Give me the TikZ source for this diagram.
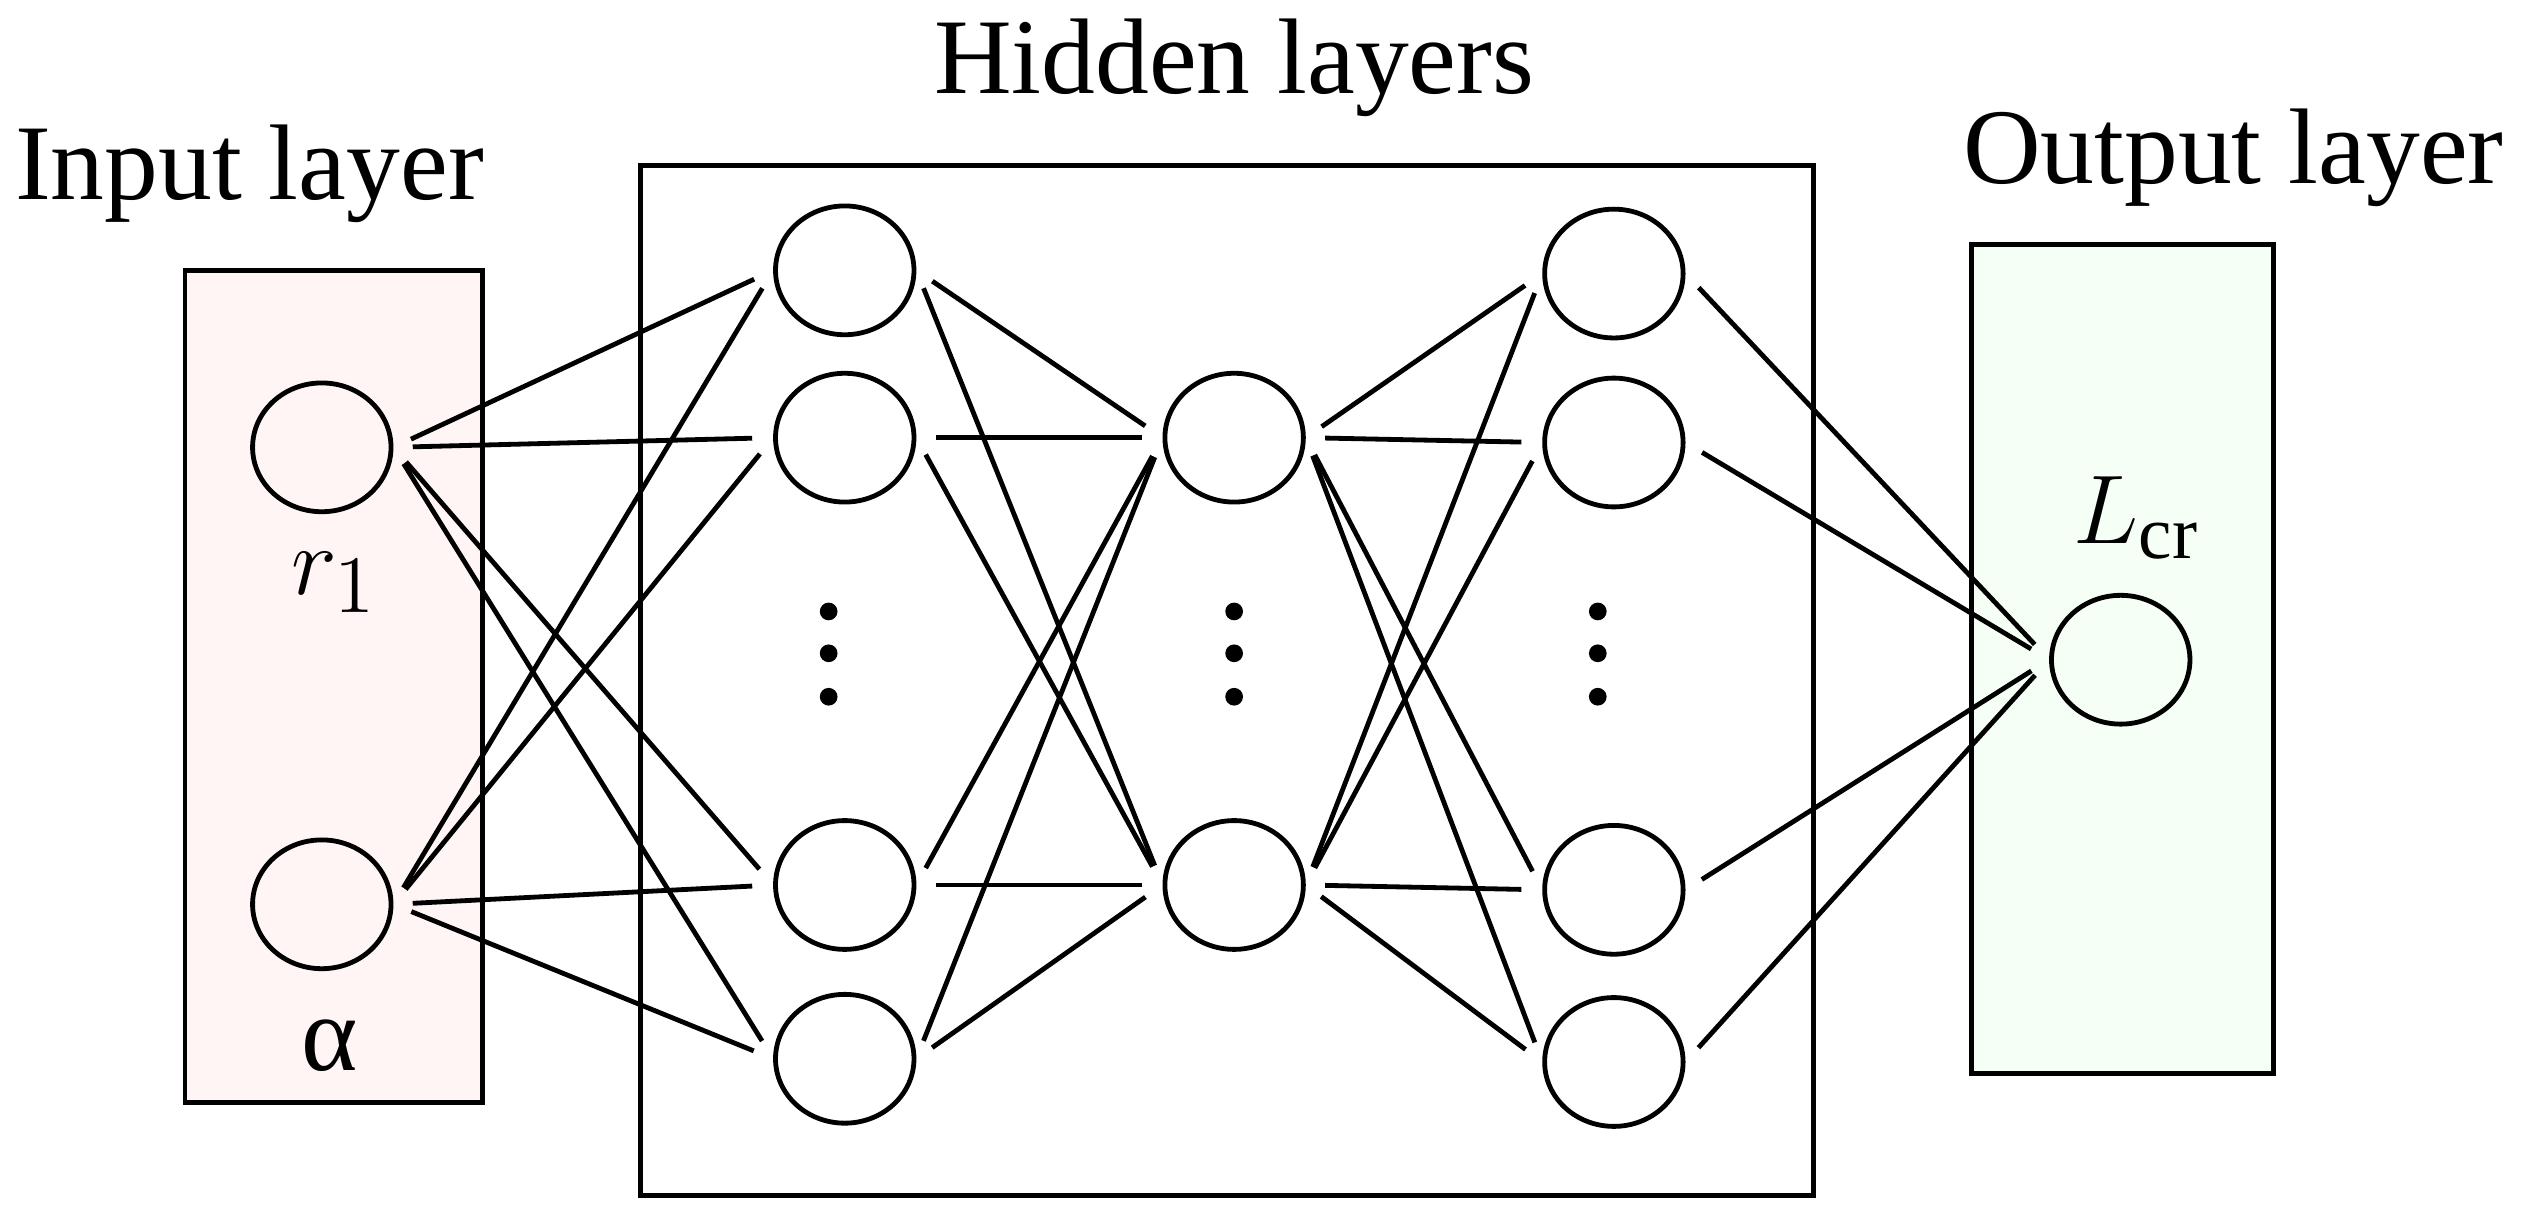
\documentclass[tikz,border=0pt]{standalone}
\usepackage{fontspec}
\setmainfont{Liberation Serif}
\usetikzlibrary{shapes.geometric}
\begin{document}
\begin{tikzpicture}[x=0.01cm, y=-0.01cm, line width=0.85pt]
\tikzset{neuron/.style={ellipse,draw,minimum width=0.86cm,minimum height=0.8cm,inner sep=0},
         lbl/.style={font=\fontsize{19}{23}\selectfont},
         vdots/.style={circle,fill=black,inner sep=0,minimum size=0.11cm},
         link/.style={shorten <=0.12cm,shorten >=0.13cm}}
\useasboundingbox (0,0) rectangle (1568,763);

% layer boxes
\draw[fill=red!4!white] (115,168) rectangle (300,685);
\draw (398,103) rectangle (1127,743);
\draw[fill=green!4!white] (1225,152) rectangle (1413,667);

% titles
\node[lbl] (tin) at (155,108) {Input layer};
\node[lbl] (thid) at (767,42) {Hidden layers};
\node[lbl] (tout) at (1388,98) {Output layer};

% neurons
\node[neuron] (i1) at (200,278) {};
\node[neuron] (i2) at (200,562) {};
\foreach \n/\y in {1/168,2/272,3/550,4/658}
  \node[neuron] (a\n) at (525,\y) {};
\foreach \n/\y in {1/272,2/550}
  \node[neuron] (b\n) at (767,\y) {};
\foreach \n/\y in {1/170,2/275,3/553,4/660}
  \node[neuron] (c\n) at (1003,\y) {};
\node[neuron] (o) at (1318,410) {};

% labels
\node[lbl] (lr) at (208,362) {$r_1$};
\node[lbl] (la) at (205,650) {α};
\node[lbl] (ll) at (1328,322) {$L_{\mathrm{cr}}$};

% dots
\foreach \x/\m in {515/a,767/b,993/c}
  \foreach \y [count=\k] in {380,406,433}
    \node[vdots] (\m d\k) at (\x,\y) {};

% connections, east side to west side
\foreach \i in {1,2}
  \foreach \j in {1,...,4}
    \draw[link] (i\i.east) -- (a\j.west);
\foreach \i in {1,...,4}
  \foreach \j in {1,2}
    \draw[link] (a\i.east) -- (b\j.west);
\foreach \i in {1,2}
  \foreach \j in {1,...,4}
    \draw[link] (b\i.east) -- (c\j.west);
\foreach \j in {1,...,4}
  \draw[link] (c\j.east) -- (o.west);

\end{tikzpicture}
\end{document}
